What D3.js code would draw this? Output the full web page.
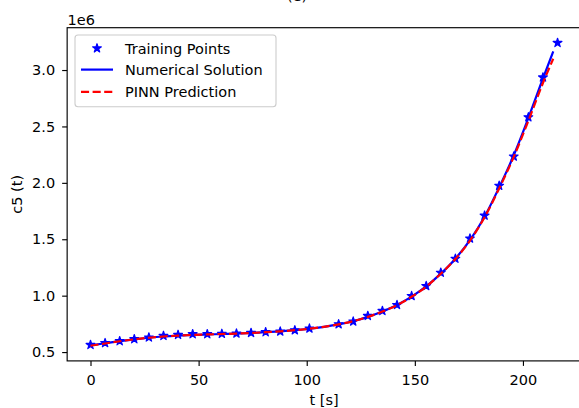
<!DOCTYPE html>
<html><head><meta charset="utf-8">
<script src="https://cdn.jsdelivr.net/npm/d3@7"></script>
<style>body{margin:0;background:#fff;} svg{display:block;font-family:"DejaVu Sans",sans-serif;}</style>
</head><body><svg id="c" width="579" height="408"></svg>
<script>
// Training points (t in s, c5 in absolute units)
const tTrain = [0, 6.75, 13.5, 20.25, 27, 33.75, 40.5, 47.25, 54, 60.75, 67.5, 74.25, 81, 87.75, 94.5, 101.25,
  114.75, 121.5, 128.25, 135, 141.75, 148.5, 155.25, 162, 168.75, 175.5, 182.25, 189, 195.75, 202.5, 209.25, 216];
const cTrain = [564000, 580000, 597000, 615000, 630000, 644000, 653000, 659000, 659000, 662000, 665000, 670000, 677000, 683000, 694000, 709000,
  747000, 771000, 821000, 865000, 918000, 997000, 1086000, 1204000, 1328000, 1507000, 1710000, 1975000, 2234000, 2582000, 2935000, 3241000];
// Numerical solution
const tNum = [0, 6.75, 13.5, 20.25, 27, 33.75, 40.5, 47.25, 54, 60.75, 67.5, 74.25, 81, 87.75, 94.5, 101.25, 108,
  114.75, 121.5, 128.25, 135, 141.75, 148.5, 155.25, 162, 168.75, 175.5, 182.25, 189, 195.75, 202.5, 209.25, 214];
const cNum = [560000, 578000, 597000, 613000, 627000, 638000, 646000, 652000, 656000, 660000, 664000, 669000, 676000, 684000, 694000, 707000, 724000,
  745000, 773000, 812000, 860000, 918000, 992000, 1082000, 1195000, 1328000, 1492000, 1700000, 1960000, 2245000, 2575000, 2925000, 3165000];
// PINN prediction
const tPinn = [0, 6.75, 13.5, 20.25, 27, 33.75, 40.5, 47.25, 54, 60.75, 67.5, 74.25, 81, 87.75, 94.5, 101.25, 108,
  114.75, 121.5, 128.25, 135, 141.75, 148.5, 155.25, 162, 168.75, 175.5, 182.25, 189, 195.75, 202.5, 209.25, 214];
const cPinn = [556000, 576000, 596000, 613000, 627000, 638000, 646000, 652000, 656000, 660000, 664000, 669000, 676000, 684000, 694000, 707000, 724000,
  746000, 774000, 812000, 859000, 916000, 990000, 1080000, 1194000, 1325000, 1488000, 1695000, 1950000, 2230000, 2550000, 2885000, 3100000];

const xTicks = [0, 50, 100, 150, 200];
const xTickLabels = ["0", "50", "100", "150", "200"];
const yTicks = [500000, 1000000, 1500000, 2000000, 2500000, 3000000];
const yTickLabels = ["0.5", "1.0", "1.5", "2.0", "2.5", "3.0"];
const legendLabels = ["Training Points", "Numerical Solution", "PINN Prediction"];

const svg = d3.select("#c");
const FS = "14.5px";
const L = 67.15, R = 580.9, T = 27.7, B = 360.9;

const allT = tTrain.concat(tNum, tPinn), allC = cTrain.concat(cNum, cPinn);
const [tmin, tmax] = d3.extent(allT), [cmin, cmax] = d3.extent(allC);
const tm = (tmax - tmin) * 0.05, cm = (cmax - cmin) * 0.05;
const x = d3.scaleLinear().domain([tmin - tm, tmax + tm]).range([L, R]);
const y = d3.scaleLinear().domain([cmin - cm, cmax + cm]).range([B, T]);

function starPath(r) {
  const ri = r * 0.381966, p = [];
  for (let i = 0; i < 10; i++) {
    const a = -Math.PI / 2 + i * Math.PI / 5, rr = i % 2 ? ri : r;
    p.push([rr * Math.cos(a), rr * Math.sin(a)]);
  }
  return "M" + p.map(d => d.join(",")).join("L") + "Z";
}
const star = starPath(4.6);

// Training points
svg.append("g").selectAll("path").data(tTrain.map((t, i) => [t, cTrain[i]])).join("path")
  .attr("d", star).attr("transform", d => `translate(${x(d[0])},${y(d[1])})`)
  .attr("fill", "#0000ff").attr("stroke", "#0000ff").attr("stroke-width", 1.2).attr("stroke-linejoin", "round");

const line = d3.line().x(d => x(d[0])).y(d => y(d[1])).curve(d3.curveMonotoneX);
svg.append("path").datum(tNum.map((t, i) => [t, cNum[i]])).attr("d", line)
  .attr("fill", "none").attr("stroke", "#0000ff").attr("stroke-width", 2.2);
svg.append("path").datum(tPinn.map((t, i) => [t, cPinn[i]])).attr("d", line)
  .attr("fill", "none").attr("stroke", "#ff0000").attr("stroke-width", 2.2).attr("stroke-dasharray", "8.1,3.5");

// Axes
const gx = svg.append("g").attr("transform", `translate(0,${B})`)
  .call(d3.axisBottom(x).tickValues(xTicks).tickFormat((d, i) => xTickLabels[i]).tickSize(5).tickPadding(8.5).tickSizeOuter(0));
const gy = svg.append("g").attr("transform", `translate(${L},0)`)
  .call(d3.axisLeft(y).tickValues(yTicks).tickFormat((d, i) => yTickLabels[i]).tickSize(5).tickPadding(7).tickSizeOuter(0));
[gx, gy].forEach(g => {
  g.select(".domain").remove();
  g.selectAll(".tick line").attr("stroke", "#000").attr("stroke-width", 1.15);
  g.selectAll(".tick text").attr("fill", "#000").style("font-size", FS).style("font-family", "DejaVu Sans");
});
svg.append("rect").attr("x", L).attr("y", T).attr("width", R - L).attr("height", B - T)
  .attr("fill", "none").attr("stroke", "#000").attr("stroke-width", 1.15);

// Labels
svg.append("text").attr("x", 67.5).attr("y", 25).style("font-size", FS).text("1e6");
svg.append("text").attr("x", (L + R) / 2).attr("y", 405).attr("text-anchor", "middle").style("font-size", FS).text("t [s]");
svg.append("text").attr("transform", `translate(22,${(T + B) / 2}) rotate(-90)`).attr("text-anchor", "middle").style("font-size", FS).text("c5 (t)");
svg.append("text").attr("x", 297).attr("y", 0.5).attr("text-anchor", "middle").style("font-size", FS).text("(e)");

// Legend
const lg = svg.append("g");
lg.append("rect").attr("x", 75).attr("y", 35).attr("width", 201).attr("height", 71.7).attr("rx", 3)
  .attr("fill", "#fff").attr("fill-opacity", 0.8).attr("stroke", "#cccccc").attr("stroke-width", 1.1);
const rows = [48.3, 69.6, 91.8];
lg.append("path").attr("d", star).attr("transform", `translate(97,${rows[0]})`).attr("fill", "#0000ff").attr("stroke", "#0000ff").attr("stroke-width", 1.2).attr("stroke-linejoin", "round");
lg.append("line").attr("x1", 81).attr("x2", 113).attr("y1", rows[1]).attr("y2", rows[1]).attr("stroke", "#0000ff").attr("stroke-width", 2.2);
lg.append("line").attr("x1", 81).attr("x2", 113).attr("y1", rows[2]).attr("y2", rows[2]).attr("stroke", "#ff0000").attr("stroke-width", 2.2).attr("stroke-dasharray", "8.1,3.5");
legendLabels.forEach((s, i) => lg.append("text").attr("x", 125).attr("y", rows[i]).attr("dy", "0.36em").style("font-size", FS).text(s));
</script></body></html>
